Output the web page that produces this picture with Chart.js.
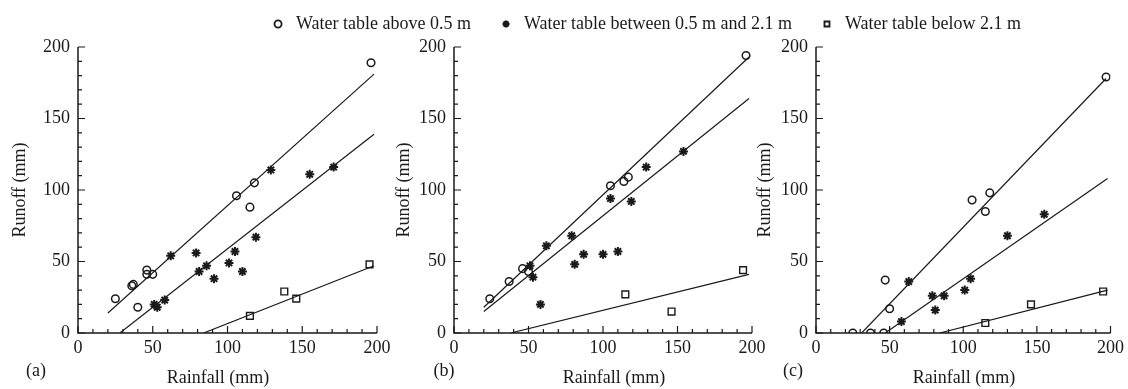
<!DOCTYPE html>
<html>
<head>
<title>Rainfall vs runoff by water table depth</title>
<script src="https://cdn.jsdelivr.net/npm/chart.js"></script>
<style>
    body { margin: 0; background: #fff; overflow: hidden; }
    #wrap { position: relative; width: 1128px; height: 389px; overflow: hidden; }
    .box { position: absolute; top: 0; height: 389px; }
    #legendBox { position: absolute; top: -11px; left: 157px; width: 976px; height: 120px; pointer-events: none; }
</style>
</head>
<body>
<div id="wrap">
    <div class="box" style="left:0;width:400px"><canvas id="chartA"></canvas></div>
    <div class="box" style="left:376px;width:399px"><canvas id="chartB"></canvas></div>
    <div class="box" style="left:738px;width:390px"><canvas id="chartC"></canvas></div>
    <div id="legendBox"><canvas id="legendChart"></canvas></div>
</div>

<script>
    // series labels
    const seriesLabels = ['Water table above 0.5 m', 'Water table between 0.5 m and 2.1 m', 'Water table below 2.1 m'];
    const tickValues = [0, 50, 100, 150, 200];

    // panel (a): [rainfall, runoff]
    const aboveA = [[25,24],[36,33],[37,34],[40,18],[46,44],[46,41],[50,41],[106,96],[115,88],[118,105],[196,189]];
    const betweenA = [[51,20],[53,18],[58,23],[62,54],[79,56],[81,43],[86,47],[91,38],[101,49],[105,57],[110,43],[119,67],[129,114],[155,111],[171,116]];
    const belowA = [[115,12],[138,29],[146,24],[195,48]];
    const fitAboveA = [[20,14],[198,181]];
    const fitBetweenA = [[28,0],[198,139]];
    const fitBelowA = [[84,0],[198,47]];

    // panel (b)
    const aboveB = [[24,24],[37,36],[46,45],[50,43],[105,103],[114,106],[117,109],[196,194]];
    const betweenB = [[51,47],[53,39],[58,20],[62,61],[79,68],[81,48],[87,55],[100,55],[105,94],[110,57],[119,92],[129,116],[154,127]];
    const belowB = [[115,27],[146,15],[194,44]];
    const fitAboveB = [[20,18],[198,193]];
    const fitBetweenB = [[20,15],[198,164]];
    const fitBelowB = [[38,0],[198,41]];

    // panel (c)
    const aboveC = [[25,0],[37,0],[46,0],[47,37],[50,17],[106,93],[115,85],[118,98],[197,179]];
    const betweenC = [[58,8],[63,36],[79,26],[81,16],[87,26],[101,30],[105,38],[130,68],[155,83]];
    const belowC = [[115,7],[146,20],[195,29]];
    const fitAboveC = [[31,0],[197,178]];
    const fitBetweenC = [[47,0],[198,108]];
    const fitBelowC = [[84,0],[198,30]];

    const ink = '#1a1a1a';
    Chart.defaults.font.family = "'Liberation Serif', 'Times New Roman', serif";
    Chart.defaults.font.size = 18;
    Chart.defaults.color = ink;

    const toXY = pts => pts.map(([x, y]) => ({x, y}));

    function markerSet(label, pts, style, radius, bw) {
        return {
            label: label,
            data: toXY(pts),
            pointStyle: style,
            pointRadius: radius,
            pointBorderWidth: bw,
            borderWidth: bw,
            borderColor: ink,
            backgroundColor: 'rgba(0,0,0,0)',
            showLine: false
        };
    }

    function fitSet(pts) {
        return {
            data: toXY(pts),
            showLine: true,
            pointRadius: 0,
            borderColor: ink,
            borderWidth: 1.2,
            fill: false
        };
    }

    // axis lines with inward major/minor ticks, plus x title and panel letter
    const panelFrame = {
        id: 'panelFrame',
        beforeDatasetsDraw(chart) {
            const {ctx, chartArea: a, scales: {x, y}} = chart;
            ctx.save();
            ctx.strokeStyle = ink;
            ctx.lineWidth = 1.5;
            ctx.beginPath();
            ctx.moveTo(a.left, a.top);
            ctx.lineTo(a.left, a.bottom);
            ctx.lineTo(a.right, a.bottom);
            ctx.stroke();
            ctx.lineWidth = 1.2;
            for (let v = 0; v <= 200; v += 10) {
                const len = tickValues.includes(v) ? 7 : 4;
                const px = x.getPixelForValue(v);
                const py = y.getPixelForValue(v);
                ctx.beginPath();
                ctx.moveTo(px, a.bottom);
                ctx.lineTo(px, a.bottom - len);
                ctx.moveTo(a.left, py);
                ctx.lineTo(a.left + len, py);
                ctx.stroke();
            }
            ctx.restore();
        },
        afterDraw(chart, args, opts) {
            const {ctx, chartArea: a} = chart;
            ctx.save();
            ctx.fillStyle = ink;
            ctx.font = "18px 'Liberation Serif', 'Times New Roman', serif";
            ctx.textAlign = 'center';
            ctx.textBaseline = 'middle';
            ctx.fillText('Rainfall (mm)', a.left + opts.titleX, 378);
            ctx.fillText(opts.letter, a.left + opts.letterX, 371);
            ctx.restore();
        }
    };

    function makePanel(id, above, between, below, fits, frame) {
        new Chart(document.getElementById(id), {
            type: 'scatter',
            data: {
                datasets: [
                    fitSet(fits[0]),
                    fitSet(fits[1]),
                    fitSet(fits[2]),
                    markerSet(seriesLabels[0], above, 'circle', 3.8, 1.5),
                    markerSet(seriesLabels[1], between, 'star', 4.5, 2),
                    markerSet(seriesLabels[2], below, 'rect', 4.8, 1.4)
                ]
            },
            options: {
                responsive: true,
                maintainAspectRatio: false,
                animation: false,
                layout: { padding: { left: 0, right: frame.padRight, top: 47, bottom: 0 } },
                plugins: {
                    legend: { display: false },
                    tooltip: { enabled: false },
                    panelFrame: frame
                },
                scales: {
                    x: {
                        type: 'linear',
                        min: 0,
                        max: 200,
                        grid: { display: false, drawTicks: false },
                        border: { display: false },
                        ticks: { padding: 4 },
                        afterBuildTicks: s => { s.ticks = tickValues.map(v => ({value: v})); },
                        afterFit: s => { s.height = 56; }
                    },
                    y: {
                        type: 'linear',
                        min: 0,
                        max: 200,
                        grid: { display: false, drawTicks: false },
                        border: { display: false },
                        ticks: { padding: 8 },
                        title: {
                            display: true,
                            text: 'Runoff (mm)',
                            padding: { top: frame.yTitlePad, bottom: 0 }
                        },
                        afterBuildTicks: s => { s.ticks = tickValues.map(v => ({value: v})); },
                        afterFit: s => { s.width = 78; }
                    }
                }
            },
            plugins: [panelFrame]
        });
    }

    makePanel('chartA', aboveA, betweenA, belowA, [fitAboveA, fitBetweenA, fitBelowA],
        { letter: '(a)', letterX: -42, titleX: 140, yTitlePad: 9, padRight: 23 });
    makePanel('chartB', aboveB, betweenB, belowB, [fitAboveB, fitBetweenB, fitBelowB],
        { letter: '(b)', letterX: -10, titleX: 160, yTitlePad: 17, padRight: 23 });
    makePanel('chartC', aboveC, betweenC, belowC, [fitAboveC, fitBetweenC, fitBelowC],
        { letter: '(c)', letterX: -23, titleX: 148, yTitlePad: 16, padRight: 14 });

    // shared legend across the top
    new Chart(document.getElementById('legendChart'), {
        type: 'scatter',
        data: {
            datasets: [
                markerSet(seriesLabels[0], [], 'circle', 3.6, 1.8),
                markerSet(seriesLabels[1], [], 'star', 4, 2.2),
                markerSet(seriesLabels[2], [], 'rect', 4, 1.8)
            ]
        },
        options: {
            responsive: true,
            maintainAspectRatio: false,
            animation: false,
            events: [],
            layout: { padding: 0 },
            scales: { x: { display: false }, y: { display: false } },
            plugins: {
                tooltip: { enabled: false },
                legend: {
                    display: true,
                    position: 'top',
                    labels: {
                        usePointStyle: true,
                        boxWidth: 18,
                        boxHeight: 5,
                        padding: 26,
                        color: ink,
                        font: { size: 18 }
                    }
                }
            }
        }
    });
</script>
</body>
</html>
